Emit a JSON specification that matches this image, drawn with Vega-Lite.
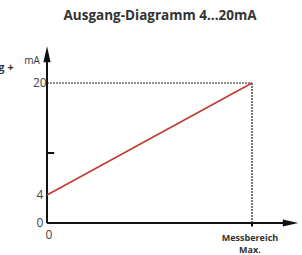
{
  "$schema": "https://vega.github.io/schema/vega-lite/v6.json",
  "width": 302,
  "height": 255,
  "autosize": "none",
  "padding": 0,
  "background": "white",
  "config": {"view": {"stroke": null}},
  "title": {"text": "Ausgang-Diagramm 4...20mA", "font": "Open Sans", "fontSize": 13.5, "fontWeight": "bold", "color": "#333333", "anchor": "middle", "dx": 9, "offset": -22},
  "datasets": {
    "signal": [{"x": 0, "y": 4}, {"x": 1, "y": 20}],
    "guides": [
      {"x": 0, "y": 20, "x2": 1, "y2": 20},
      {"x": 1, "y": 0, "x2": 1, "y2": 20}
    ],
    "axes": [
      {"x": 0, "y": 0, "x2": 0, "y2": 23.5},
      {"x": 0, "y": 0, "x2": 1.17, "y2": 0},
      {"x": 0, "y": 10, "x2": 0.035, "y2": 10},
      {"x": 1, "y": -0.5, "x2": 1, "y2": 0}
    ],
    "arrows": [
      {"x": 0, "y": 24.1, "dir": "up"},
      {"x": 1.188, "y": 0, "dir": "right"}
    ],
    "ticklabels": [
      {"x": -0.035, "y": 20, "label": "20", "align": "right"},
      {"x": -0.035, "y": 4, "label": "4", "align": "right"},
      {"x": -0.035, "y": 0, "label": "0", "align": "right"},
      {"x": 0.01, "y": -1.7, "label": "0", "align": "center"}
    ],
    "unit": [{"x": -0.073, "y": 23.2, "label": "mA"}],
    "boldlabels": [
      {"x": -0.2, "y": 22.1, "label": "g +", "align": "right", "size": 11},
      {"x": 0.99, "y": -2.2, "label": "Messbereich", "align": "center", "size": 9},
      {"x": 0.99, "y": -3.9, "label": "Max.", "align": "center", "size": 9}
    ]
  },
  "layer": [
    {
      "data": {"name": "guides"},
      "mark": {"type": "rule", "color": "#222222", "strokeWidth": 1.2, "strokeDash": [2, 1]},
      "encoding": {
        "x": {"field": "x", "type": "quantitative", "scale": {"domain": [-0.2293, 1.2439], "nice": false, "zero": false}, "axis": null},
        "y": {"field": "y", "type": "quantitative", "scale": {"domain": [-4.571, 31.857], "nice": false, "zero": false}, "axis": null},
        "x2": {"field": "x2"},
        "y2": {"field": "y2"}
      }
    },
    {
      "data": {"name": "axes"},
      "mark": {"type": "rule", "color": "#111111", "strokeWidth": 2},
      "encoding": {
        "x": {"field": "x", "type": "quantitative"},
        "y": {"field": "y", "type": "quantitative"},
        "x2": {"field": "x2"},
        "y2": {"field": "y2"}
      }
    },
    {
      "data": {"name": "signal"},
      "mark": {"type": "line", "color": "#c0392b", "strokeWidth": 1.5},
      "encoding": {
        "x": {"field": "x", "type": "quantitative"},
        "y": {"field": "y", "type": "quantitative"}
      }
    },
    {
      "data": {"name": "arrows"},
      "transform": [{"filter": "datum.dir == 'up'"}],
      "mark": {"type": "point", "filled": true, "color": "#111111", "opacity": 1, "shape": "M0,-1L0.45,1L-0.45,1Z", "size": 256},
      "encoding": {
        "x": {"field": "x", "type": "quantitative"},
        "y": {"field": "y", "type": "quantitative"}
      }
    },
    {
      "data": {"name": "arrows"},
      "transform": [{"filter": "datum.dir == 'right'"}],
      "mark": {"type": "point", "filled": true, "color": "#111111", "opacity": 1, "shape": "M1,0L-1,0.45L-1,-0.45Z", "size": 240},
      "encoding": {
        "x": {"field": "x", "type": "quantitative"},
        "y": {"field": "y", "type": "quantitative"}
      }
    },
    {
      "data": {"name": "ticklabels"},
      "mark": {"type": "text", "font": "Open Sans", "fontSize": 12, "color": "#444444", "baseline": "middle"},
      "encoding": {
        "x": {"field": "x", "type": "quantitative"},
        "y": {"field": "y", "type": "quantitative"},
        "text": {"field": "label"},
        "align": {"field": "align", "type": "nominal", "scale": null}
      }
    },
    {
      "data": {"name": "unit"},
      "mark": {"type": "text", "font": "Open Sans", "fontSize": 10, "color": "#333333", "baseline": "middle", "align": "center"},
      "encoding": {
        "x": {"field": "x", "type": "quantitative"},
        "y": {"field": "y", "type": "quantitative"},
        "text": {"field": "label"}
      }
    },
    {
      "data": {"name": "boldlabels"},
      "mark": {"type": "text", "font": "Open Sans", "fontWeight": "bold", "color": "#333333", "baseline": "middle"},
      "encoding": {
        "x": {"field": "x", "type": "quantitative"},
        "y": {"field": "y", "type": "quantitative"},
        "text": {"field": "label"},
        "align": {"field": "align", "type": "nominal", "scale": null},
        "size": {"field": "size", "type": "quantitative", "scale": null}
      }
    }
  ]
}
